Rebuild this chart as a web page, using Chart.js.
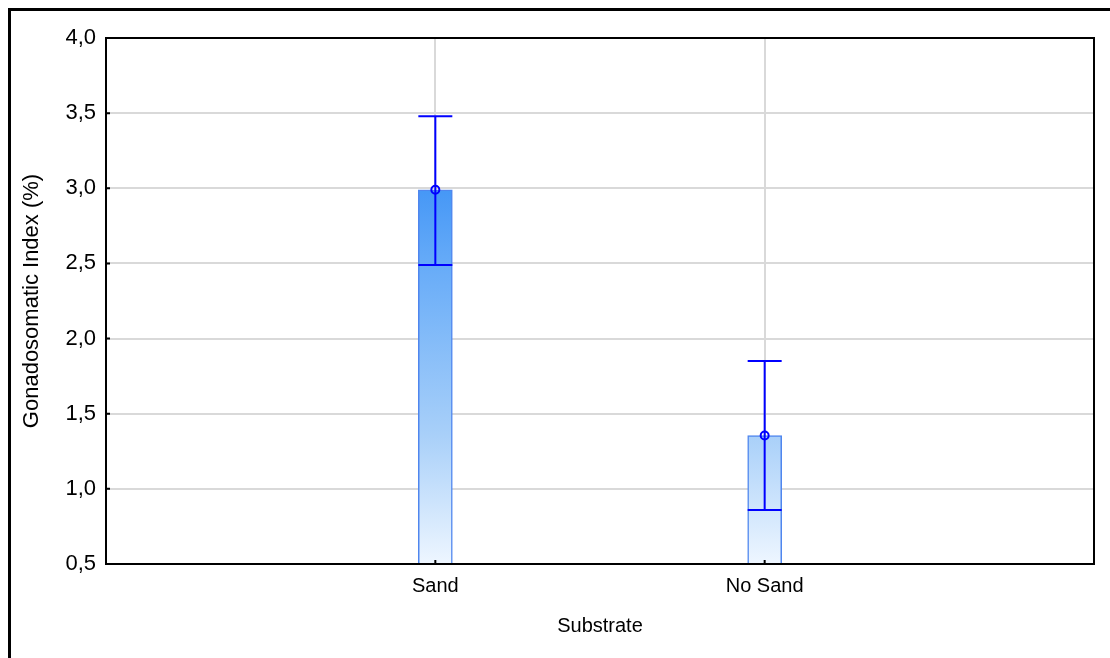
<!DOCTYPE html>
<html>
<head>
<meta charset="utf-8">
<script src="https://cdn.jsdelivr.net/npm/chart.js@4"></script>
<style>
  html, body { margin: 0; padding: 0; background: #fff; overflow: hidden; }
  #wrap { position: relative; width: 1110px; height: 658px; }
  #frame { position: absolute; left: 8px; top: 8px; width: 1200px; height: 700px; border-left: 3px solid #000; border-top: 3px solid #000; pointer-events: none; }
  canvas { position: absolute; left: 0; top: 0; }
</style>
</head>
<body>
<div id="wrap">
  <canvas id="gsiChart" width="1110" height="658"></canvas>
  <div id="frame"></div>
</div>
<script>
const categorias = ["", "Sand", "No Sand", ""];
const medias = [null, 2.99, 1.355, null];
const limiteSup = [null, 3.48, 1.85, null];
const limiteInf = [null, 2.49, 0.86, null];
const yTicks = [0.5, 1.0, 1.5, 2.0, 2.5, 3.0, 3.5, 4.0];

const fuente = "Arial, 'Liberation Sans', sans-serif";
const azul = "#0000ff";

// Degradado vertical ligado a la escala Y (mismo tono a igual altura)
function rellenoBarra(context) {
  const chart = context.chart;
  const y = chart.scales.y;
  if (!chart.chartArea || !y) return "#8fc0f8";
  const g = chart.ctx.createLinearGradient(0, y.getPixelForValue(0.5), 0, y.getPixelForValue(3.0));
  g.addColorStop(0, "#eef6ff");
  g.addColorStop(0.34, "#a9d0f9");
  g.addColorStop(0.8, "#66abf8");
  g.addColorStop(1, "#4597f6");
  return g;
}

// Marco del área de trazado, marcas interiores, barras de error y medias
const extras = {
  id: "extras",
  afterDatasetsDraw(chart) {
    const { ctx, chartArea, scales: { x, y } } = chart;
    const meta = chart.getDatasetMeta(0);
    ctx.save();

    ctx.strokeStyle = azul;
    ctx.lineWidth = 2;
    medias.forEach((m, i) => {
      if (m === null) return;
      const bar = meta.data[i];
      const cx = x.getPixelForValue(i);
      const half = bar.width / 2;
      const yTop = y.getPixelForValue(limiteSup[i]);
      const yBot = y.getPixelForValue(limiteInf[i]);
      ctx.beginPath();
      ctx.moveTo(cx, yTop);
      ctx.lineTo(cx, yBot);
      ctx.moveTo(cx - half, yTop);
      ctx.lineTo(cx + half, yTop);
      ctx.moveTo(cx - half, yBot);
      ctx.lineTo(cx + half, yBot);
      ctx.stroke();
      ctx.beginPath();
      ctx.arc(cx, y.getPixelForValue(m), 4, 0, Math.PI * 2);
      ctx.stroke();
    });

    ctx.strokeStyle = "#000";
    ctx.lineWidth = 2;
    ctx.strokeRect(chartArea.left, chartArea.top, chartArea.right - chartArea.left, chartArea.bottom - chartArea.top);

    ctx.beginPath();
    yTicks.forEach(v => {
      const py = y.getPixelForValue(v);
      ctx.moveTo(chartArea.left, py);
      ctx.lineTo(chartArea.left + 4, py);
    });
    [1, 2].forEach(i => {
      const px = x.getPixelForValue(i);
      ctx.moveTo(px, chartArea.bottom);
      ctx.lineTo(px, chartArea.bottom - 4);
    });
    ctx.stroke();
    ctx.restore();
  }
};

new Chart(document.getElementById("gsiChart"), {
  type: "bar",
  data: {
    labels: categorias,
    datasets: [{
      data: medias,
      backgroundColor: rellenoBarra,
      borderColor: "#4f86ee",
      borderWidth: 1.5,
      borderSkipped: false,
      barThickness: 34
    }]
  },
  options: {
    responsive: false,
    animation: false,
    events: [],
    layout: { padding: { top: 38, right: 16, left: 0, bottom: 0 } },
    plugins: { legend: { display: false }, tooltip: { enabled: false } },
    scales: {
      x: {
        offset: false,
        afterFit: s => { s.height = 94; },
        grid: {
          offset: false,
          drawTicks: false,
          lineWidth: 2,
          color: c => (c.index === 1 || c.index === 2) ? "#d9d9d9" : "rgba(0,0,0,0)"
        },
        border: { color: "#000", width: 2 },
        ticks: { padding: 10, color: "#000", font: { family: fuente, size: 20 } },
        title: {
          display: true,
          text: "Substrate",
          color: "#000",
          font: { family: fuente, size: 20 },
          padding: { top: 0, bottom: 20 }
        }
      },
      y: {
        min: 0.5,
        max: 4.0,
        afterFit: s => { s.width = 106; },
        afterBuildTicks: s => { s.ticks = yTicks.map(v => ({ value: v })); },
        grid: { drawTicks: false, lineWidth: 2, color: "#d9d9d9" },
        border: { color: "#000", width: 2 },
        ticks: {
          padding: 10,
          color: "#000",
          font: { family: fuente, size: 22 },
          callback: v => v.toFixed(1).replace(".", ",")
        },
        title: {
          display: true,
          text: "Gonadosomatic Index (%)",
          color: "#000",
          font: { family: fuente, size: 22 },
          padding: { top: 19, bottom: 0 }
        }
      }
    }
  },
  plugins: [extras]
});
</script>
</body>
</html>
